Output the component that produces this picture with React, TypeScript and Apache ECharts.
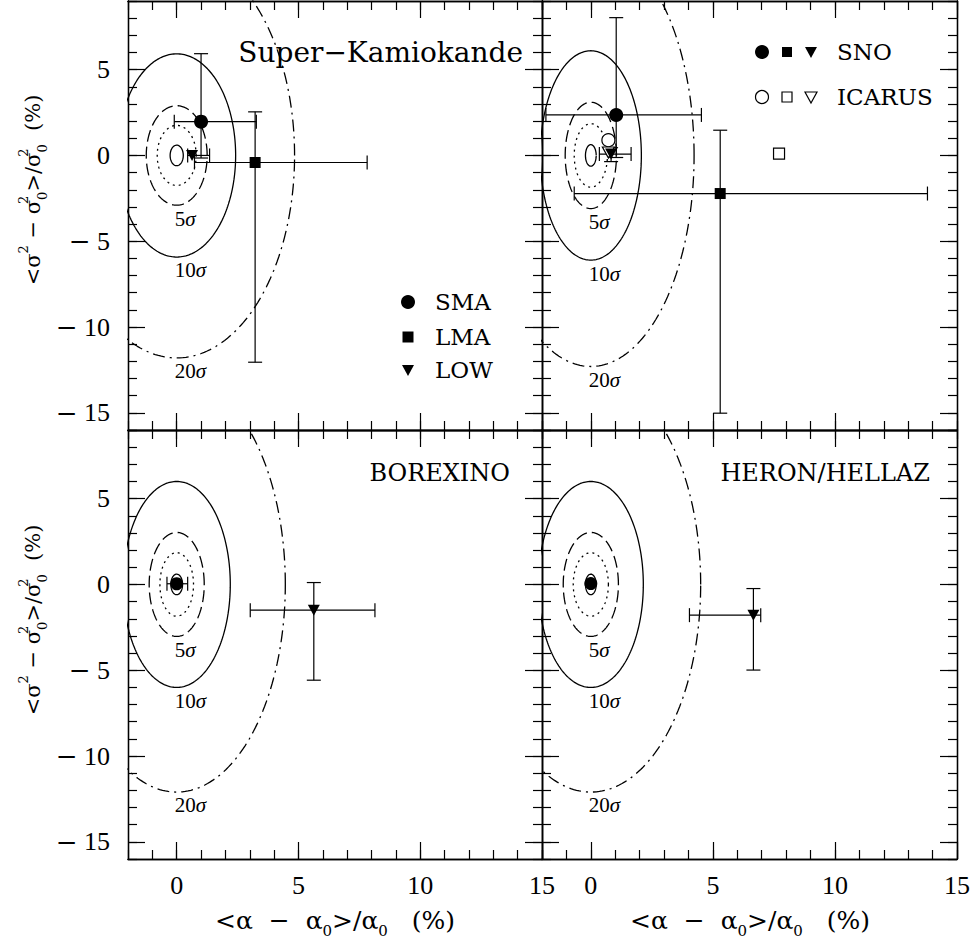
import React, { useEffect, useRef } from 'react';
import * as echarts from 'echarts';

// ---------- axis ranges & ticks ----------
const X_MIN = -2, X_MAX = 15, Y_MIN = -16, Y_MAX = 9;
const X_MAJOR = [0, 5, 10, 15];
const X_MINOR = [-2, -1, 0, 1, 2, 3, 4, 5, 6, 7, 8, 9, 10, 11, 12, 13, 14, 15];
const Y_MAJOR = [-15, -10, -5, 0, 5];
const Y_MINOR = [-16, -15, -14, -13, -12, -11, -10, -9, -8, -7, -6, -5, -4, -3, -2, -1, 0, 1, 2, 3, 4, 5, 6, 7, 8, 9];

// ---------- panels: SK, SNO/ICARUS, BOREXINO, HERON/HELLAZ ----------
// contour semi-axes [x half-width, y half-height] (%), centred on (0,0)
const C1 = [[0.27, 0.6], [0.22, 0.63], [0.24, 0.6], [0.22, 0.6]];
const C3 = [[0.8, 1.75], [0.68, 1.85], [0.69, 1.85], [0.72, 1.85]];
const C5 = [[1.25, 2.9], [1.05, 3.1], [1.13, 3.03], [1.13, 3.03]];
const C10 = [[2.42, 5.92], [2.07, 6.1], [2.2, 6.0], [2.15, 6.0]];
const C20 = [[4.84, 11.8], [4.23, 12.3], [4.46, 12.1], [4.5, 12.1]];
const SIGMA_NUMS = ['5', '10', '20'];

// points: [x, y, xLow, xHigh, yLow, yHigh]
const skSMA = [[1.0, 1.97, -0.1, 3.27, -0.15, 5.93]];
const skLMA = [[3.22, -0.41, 0.73, 7.82, -12.05, 2.54]];
const skLOW = [[0.63, 0.0, 0.45, 1.35, 0.0, 0.0]];
const snoSMA = [[1.04, 2.36, -1.84, 4.53, -0.12, 8.03]];
const snoLMA = [[5.3, -2.22, -0.68, 13.79, -15.02, 1.47]];
const snoLOW = [[0.83, 0.08, 0.35, 1.65, -0.36, 0.45]];
const icarusSMA = [[0.72, 0.89]];
const icarusLMA = [[7.71, 0.11]];
const icarusLOW = [[0.72, 0.17]];
const borexSMA = [[0.0, 0.04, -0.4, 0.45, 0.04, 0.04]];
const borexLOW = [[5.63, -1.5, 3.02, 8.14, -5.58, 0.11]];
const heronSMA = [[0.0, 0.05]];
const heronLOW = [[6.66, -1.79, 4.04, 6.96, -4.99, -0.24]];

const SERIF = "'DejaVu Serif', serif";
const TIMES = "'Liberation Serif', serif";

const GRIDS = [
  { left: 128, top: 1, width: 414, height: 429 },
  { left: 542, top: 1, width: 415, height: 429 },
  { left: 128, top: 430, width: 414, height: 429 },
  { left: 542, top: 430, width: 415, height: 429 },
];

function ellipsePts(a: number, b: number) {
  const pts: number[][] = [];
  const n = 240;
  for (let k = 0; k <= n; k++) {
    const t = (k / n) * Math.PI * 2;
    pts.push([a * Math.cos(t), b * Math.sin(t)]);
  }
  return pts;
}

function contour(gi: number, ab: number[], dash: any) {
  return {
    type: 'line', xAxisIndex: gi * 4, yAxisIndex: gi * 4, silent: true, z: 2,
    data: ellipsePts(ab[0], ab[1]), showSymbol: false, symbol: 'none', clip: true,
    lineStyle: { color: '#000', width: 1.3, type: dash },
  };
}

function errorBars(gi: number, data: number[][]) {
  return {
    type: 'custom', xAxisIndex: gi * 4, yAxisIndex: gi * 4, silent: true, z: 3,
    dimensions: ['x', 'y', 'xl', 'xh', 'yl', 'yh'],
    encode: { x: 0, y: 1 },
    data,
    renderItem: (params: any, api: any) => {
      const x = api.value(0), y = api.value(1);
      const xl = api.value(2), xh = api.value(3), yl = api.value(4), yh = api.value(5);
      const st = { stroke: '#000', lineWidth: 1.2 };
      const cap = 7;
      const ch: any[] = [];
      const ln = (a: number[], b: number[]) => ch.push({ type: 'line', shape: { x1: a[0], y1: a[1], x2: b[0], y2: b[1] }, style: st });
      if (xh > xl) {
        const p1 = api.coord([xl, y]);
        const p2 = api.coord([xh, y]);
        ln(p1, p2);
        ln([p1[0], p1[1] - cap], [p1[0], p1[1] + cap]);
        ln([p2[0], p2[1] - cap], [p2[0], p2[1] + cap]);
      }
      if (yh > yl) {
        const p1 = api.coord([x, yl]);
        const p2 = api.coord([x, yh]);
        ln(p1, p2);
        ln([p1[0] - cap, p1[1]], [p1[0] + cap, p1[1]]);
        ln([p2[0] - cap, p2[1]], [p2[0] + cap, p2[1]]);
      }
      return { type: 'group', children: ch };
    },
  };
}

function sigmaLabels(gi: number) {
  const bs = [C5[gi][1], C10[gi][1], C20[gi][1]];
  return {
    type: 'custom', xAxisIndex: gi * 4, yAxisIndex: gi * 4, silent: true, z: 4,
    data: bs.map((b) => [-0.08, -(b + 0.78)]),
    renderItem: (params: any, api: any) => {
      const p = api.coord([api.value(0), api.value(1)]);
      return {
        type: 'text', x: p[0], y: p[1],
        style: {
          text: `{n|${SIGMA_NUMS[params.dataIndex]}}{s|σ}`,
          align: 'left', verticalAlign: 'middle',
          rich: {
            n: { fontSize: 21, fontFamily: TIMES, fill: '#000' },
            s: { fontSize: 21, fontFamily: TIMES, fontStyle: 'italic', fill: '#000' },
          },
        },
      };
    },
  };
}

function markers(gi: number, data: number[][], symbol: string, size: any, open: boolean, rotate = 0) {
  return {
    type: 'scatter', xAxisIndex: gi * 4, yAxisIndex: gi * 4, silent: true, z: open ? 5 : 6,
    data: data.map((d) => [d[0], d[1]]),
    symbol, symbolSize: size, symbolRotate: rotate,
    itemStyle: open ? { color: '#fff', borderColor: '#000', borderWidth: 1.2, opacity: 1 } : { color: '#000', opacity: 1 },
  };
}

function buildAxes() {
  const xAxes: any[] = [];
  const yAxes: any[] = [];
  GRIDS.forEach((_, gi) => {
    const bottomRow = gi >= 2;
    const leftCol = gi % 2 === 0;
    const xs: [string, boolean][] = [['bottom', false], ['bottom', true], ['top', false], ['top', true]];
    xs.forEach(([pos, major]) => {
      xAxes.push({
        type: 'value', gridIndex: gi, position: pos, min: X_MIN, max: X_MAX,
        axisLine: { show: true, onZero: false, lineStyle: { color: '#000', width: 1.3 } },
        axisTick: { show: true, inside: true, length: major ? 17 : 9, customValues: major ? X_MAJOR : X_MINOR, lineStyle: { color: '#000', width: 1.2 } },
        axisLabel: {
          show: major && pos === 'bottom' && bottomRow, customValues: X_MAJOR,
          fontSize: 26, fontFamily: TIMES, color: '#000', margin: 13,
        },
        splitLine: { show: false },
      });
    });
    const ys: [string, boolean][] = [['left', false], ['left', true], ['right', false], ['right', true]];
    ys.forEach(([pos, major]) => {
      yAxes.push({
        type: 'value', gridIndex: gi, position: pos, min: Y_MIN, max: Y_MAX,
        axisLine: { show: true, onZero: false, lineStyle: { color: '#000', width: 1.3 } },
        axisTick: { show: true, inside: true, length: major ? 17 : 9, customValues: major ? Y_MAJOR : Y_MINOR, lineStyle: { color: '#000', width: 1.2 } },
        axisLabel: {
          show: major && pos === 'left' && leftCol, customValues: Y_MAJOR,
          fontSize: 26, fontFamily: TIMES, color: '#000', margin: 18,
          formatter: (v: any) => {
            const n = Number(v);
            return n < 0 ? `{m|\u2212}{n| ${-n}}` : `{n|${n}}`;
          },
          rich: {
            m: { fontSize: 26, fontFamily: SERIF, color: '#000' },
            n: { fontSize: 26, fontFamily: TIMES, color: '#000' },
          },
        },
        splitLine: { show: false },
      });
    });
  });
  return { xAxes, yAxes };
}

const panelData = [
  { pts: [[skSMA, 'circle', 14, false, 0], [skLMA, 'rect', 11, false, 0], [skLOW, 'triangle', [12, 11], false, 180]], err: [skSMA, skLMA, skLOW] },
  {
    pts: [[icarusSMA, 'circle', 13, true, 0], [icarusLMA, 'rect', 11, true, 0], [icarusLOW, 'triangle', [12, 11], true, 180],
      [snoSMA, 'circle', 14, false, 0], [snoLMA, 'rect', 11, false, 0], [snoLOW, 'triangle', [12, 11], false, 180]],
    err: [snoSMA, snoLMA, snoLOW],
  },
  { pts: [[borexSMA, 'circle', 13, false, 0], [borexLOW, 'triangle', [12, 11], false, 180]], err: [borexSMA, borexLOW] },
  { pts: [[heronSMA, 'circle', 13, false, 0], [heronLOW, 'triangle', [12, 11], false, 180]], err: [heronLOW] },
];

function buildSeries() {
  const series: any[] = [];
  GRIDS.forEach((_, gi) => {
    series.push(contour(gi, C1[gi], 'solid'));
    series.push(contour(gi, C3[gi], [2, 4]));
    series.push(contour(gi, C5[gi], [12, 5]));
    series.push(contour(gi, C10[gi], 'solid'));
    series.push(contour(gi, C20[gi], [12, 5, 2, 5]));
    series.push(sigmaLabels(gi));
    panelData[gi].err.forEach((d) => series.push(errorBars(gi, d)));
    panelData[gi].pts.forEach((p: any) => series.push(markers(gi, p[0], p[1], p[2], p[3], p[4])));
  });
  return series;
}

const richY = {
  t: { fontSize: 21, fontFamily: SERIF, fill: '#000', lineHeight: 32 },
  sp: { fontSize: 13, fontFamily: SERIF, fill: '#000', verticalAlign: 'top' },
  sp0: { fontSize: 13, fontFamily: SERIF, fill: '#000', verticalAlign: 'top', width: 0 },
  sb: { fontSize: 13, fontFamily: SERIF, fill: '#000', verticalAlign: 'bottom' },
};
const richX = {
  t: { fontSize: 25, fontFamily: SERIF, fill: '#000', lineHeight: 36 },
  sb: { fontSize: 15, fontFamily: SERIF, fill: '#000', verticalAlign: 'bottom' },
};

const yName = '{t|<σ}{sp|2}{t| − σ}{sp0|2}{sb|0}{t|>/σ}{sp0|2}{sb|0}{t|  (%)}';
const xName = '{t|<α  −  α}{sb|0}{t|>/α}{sb|0}{t|   (%)}';

function buildGraphic() {
  const g: any[] = [];
  const txt = (x: number, y: number, text: string, size: number, align = 'left', family = SERIF) =>
    g.push({ type: 'text', x, y, silent: true, style: { text, fontSize: size, fontFamily: family, fill: '#000', align, verticalAlign: 'middle' } });
  // titles
  txt(523, 52, 'Super\u2212Kamiokande', 28, 'right');
  txt(510, 473, 'BOREXINO', 24, 'right');
  txt(930, 473, 'HERON/HELLAZ', 24, 'right');
  // SK legend
  g.push({ type: 'circle', shape: { cx: 408, cy: 302, r: 7 }, style: { fill: '#000' } });
  g.push({ type: 'rect', shape: { x: 402.5, y: 331.5, width: 11, height: 11 }, style: { fill: '#000' } });
  g.push({ type: 'polygon', shape: { points: [[402, 365], [414, 365], [408, 376]] }, style: { fill: '#000' } });
  txt(435, 302, 'SMA', 23);
  txt(435, 337, 'LMA', 23);
  txt(435, 370, 'LOW', 23);
  // SNO / ICARUS legend
  g.push({ type: 'circle', shape: { cx: 762, cy: 52, r: 7 }, style: { fill: '#000' } });
  g.push({ type: 'rect', shape: { x: 782, y: 47, width: 10, height: 10 }, style: { fill: '#000' } });
  g.push({ type: 'polygon', shape: { points: [[805, 47], [817, 47], [811, 58]] }, style: { fill: '#000' } });
  g.push({ type: 'circle', shape: { cx: 762, cy: 97, r: 6.5 }, style: { fill: '#fff', stroke: '#000', lineWidth: 1.2 } });
  g.push({ type: 'rect', shape: { x: 782, y: 92, width: 10, height: 10 }, style: { fill: '#fff', stroke: '#000', lineWidth: 1.2 } });
  g.push({ type: 'polygon', shape: { points: [[805, 92], [817, 92], [811, 103]] }, style: { fill: '#fff', stroke: '#000', lineWidth: 1.2 } });
  txt(837, 52, 'SNO', 23);
  txt(837, 97, 'ICARUS', 23);
  // axis names
  [190, 620].forEach((cy) => g.push({
    type: 'text', x: 33, y: cy, rotation: Math.PI / 2, silent: true,
    style: { text: yName, rich: richY, align: 'center', verticalAlign: 'middle', fill: '#000' },
  }));
  [335, 750].forEach((cx) => g.push({
    type: 'text', x: cx, y: 920, silent: true,
    style: { text: xName, rich: richX, align: 'center', verticalAlign: 'middle', fill: '#000' },
  }));
  return g;
}

export default function App() {
  const ref = useRef<HTMLDivElement>(null);
  useEffect(() => {
    if (!ref.current) return;
    const chart = echarts.init(ref.current, undefined, { renderer: 'svg' });
    const { xAxes, yAxes } = buildAxes();
    chart.setOption({
      animation: false,
      backgroundColor: '#fff',
      grid: GRIDS.map((g) => ({ ...g, containLabel: false, outerBoundsMode: 'none' })),
      xAxis: xAxes,
      yAxis: yAxes,
      series: buildSeries(),
      graphic: buildGraphic(),
    });
    return () => chart.dispose();
  }, []);
  return <div ref={ref} style={{ position: 'absolute', left: 0, top: 0, width: 977, height: 947 }} />;
}
